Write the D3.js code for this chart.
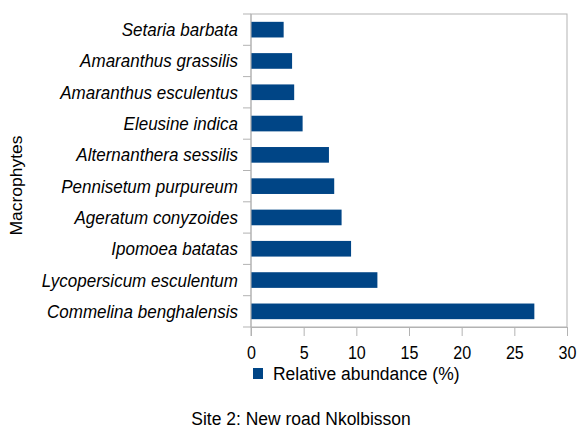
<!DOCTYPE html>
<html>
<head>
<meta charset="utf-8">
<script src="https://d3js.org/d3.v7.min.js"></script>
<style>
  body { margin: 0; background: #fff; }
  text { font-family: "Liberation Sans", Arial, sans-serif; fill: #000; }
</style>
</head>
<body>
<svg id="chart" width="581" height="430"></svg>
<script>
// data, top to bottom
var species = ["Setaria barbata", "Amaranthus grassilis", "Amaranthus esculentus", "Eleusine indica",
  "Alternanthera sessilis", "Pennisetum purpureum", "Ageratum conyzoides", "Ipomoea batatas",
  "Lycopersicum esculentum", "Commelina benghalensis"];
var abundance = [3.1, 3.9, 4.1, 4.9, 7.4, 7.9, 8.6, 9.5, 12.0, 26.9];
var xTicks = [0, 5, 10, 15, 20, 25, 30];
var seriesName = "Relative abundance (%)";
var yTitle = "Macrophytes";
var caption = "Site 2: New road Nkolbisson";

var pL = 251, pR = 567, pT = 14, pB = 327;
var sx = 0.92; // the text looks a bit squeezed sideways
var svg = d3.select("#chart");

var x = d3.scaleLinear().domain([0, 30]).range([pL, pR]);
var y = d3.scaleBand().domain(species).range([pT, pB]).paddingInner(0.5).paddingOuter(0.25);

// plot frame
svg.append("rect").attr("x", pL).attr("y", pT).attr("width", pR - pL).attr("height", pB - pT)
  .attr("fill", "none").attr("stroke", "#b3b3b3").attr("stroke-width", 1);

// bars
svg.selectAll("rect.bar").data(species).enter().append("rect")
  .attr("class", "bar")
  .attr("x", x(0))
  .attr("y", function(d) { return y(d); })
  .attr("width", function(d, i) { return x(abundance[i]) - x(0); })
  .attr("height", y.bandwidth())
  .attr("fill", "#004586");

// y axis: ticks between categories
var step = (pB - pT) / species.length;
var yAx = svg.append("g");
yAx.append("line").attr("x1", pL).attr("x2", pL).attr("y1", pT).attr("y2", pB + 9)
  .attr("stroke", "#b3b3b3");
d3.range(species.length + 1).forEach(function(i) {
  yAx.append("line").attr("x1", pL - 8).attr("x2", pL).attr("y1", pT + i * step).attr("y2", pT + i * step)
    .attr("stroke", "#b3b3b3");
});
yAx.selectAll("text").data(species).enter().append("text")
  .attr("transform", function(d) { return "translate(" + (pL - 13) + "," + (y(d) + y.bandwidth() / 2) + ") scale(" + sx + ",1)"; })
  .attr("dy", "0.35em")
  .attr("text-anchor", "end")
  .attr("font-style", "italic")
  .attr("font-size", 18.5)
  .text(function(d) { return d; });

// x axis
var xAx = svg.append("g").attr("transform", "translate(0," + pB + ")")
  .call(d3.axisBottom(x).tickValues(xTicks).tickSize(9).tickPadding(10.5).tickFormat(d3.format("d")));
xAx.select(".domain").attr("stroke", "#b3b3b3");
xAx.selectAll(".tick line").attr("stroke", "#b3b3b3");
xAx.selectAll(".tick text").attr("font-size", 17.5).attr("font-family", "Liberation Sans, Arial, sans-serif")
  .attr("fill", "#000").attr("transform", "scale(" + sx + ",1)");

// legend
svg.append("rect").attr("x", 253).attr("y", 368).attr("width", 10).attr("height", 11).attr("fill", "#004586");
svg.append("text").attr("transform", "translate(273,380) scale(" + sx + ",1)").attr("font-size", 19).text(seriesName);

// y title
svg.append("text").attr("transform", "translate(22,185.5) rotate(-90) scale(1," + sx + ")").attr("text-anchor", "middle")
  .attr("font-size", 17.5).text(yTitle);

// caption
svg.append("text").attr("transform", "translate(301,425) scale(" + sx + ",1)").attr("text-anchor", "middle")
  .attr("font-size", 19).text(caption);
</script>
</body>
</html>
